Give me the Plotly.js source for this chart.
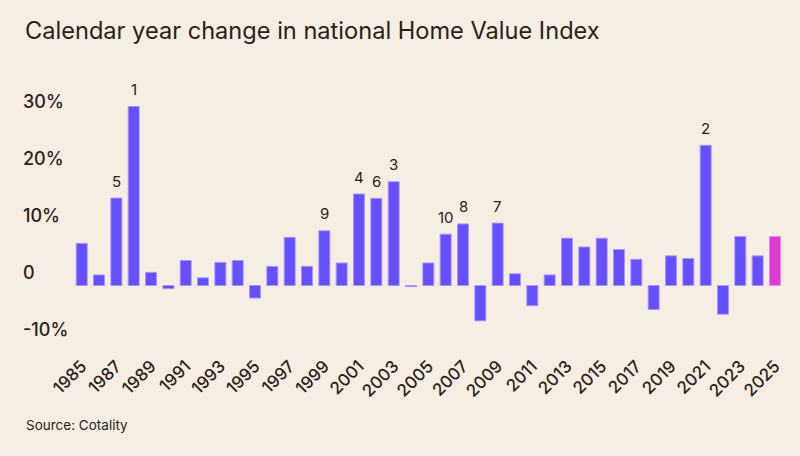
<!DOCTYPE html>
<html>
<head>
<meta charset="utf-8">
<script src="https://cdn.plot.ly/plotly-3.0.1.min.js"></script>
<style>html,body{margin:0;padding:0;background:#f7eee3;}#chart{width:800px;height:456px;}</style>
</head>
<body>
<div id="chart"></div>
<script>
// Calendar-year change in national Home Value Index (%)
const years = [1985,1986,1987,1988,1989,1990,1991,1992,1993,1994,1995,1996,1997,1998,1999,2000,
  2001,2002,2003,2004,2005,2006,2007,2008,2009,2010,2011,2012,2013,2014,2015,2016,2017,2018,
  2019,2020,2021,2022,2023,2024,2025];
const changes = [7.4,1.85,15.35,31.4,2.3,-0.55,4.4,1.35,4.05,4.4,-2.2,3.35,8.45,3.35,9.6,3.95,
  16.05,15.3,18.2,-0.2,3.95,9.0,10.8,-6.2,10.95,2.05,-3.55,1.85,8.3,6.75,8.3,6.3,4.6,-4.2,
  5.2,4.75,24.6,-5.05,8.6,5.2,8.6];
const yTickVals = [-10,0,10,20,30];
const yTickText = ['-10%','0','10%','20%','30%'];
const highlightYear = 2025;
const rankCount = 10;

const barColors = years.map(y => y === highlightYear ? '#d93bd3' : '#6650fe');
const lineColors = years.map(y => y === highlightYear ? '#ec8fe6' : '#a597ff');

// rank labels for the top years
const order = changes.map((v,i)=>i).sort((a,b)=>changes[b]-changes[a]).slice(0,rankCount);
const annotations = order.map((idx,r)=>({
  x: years[idx], y: changes[idx], xref:'x', yref:'y',
  text: String(r+1), showarrow:false, yanchor:'middle', yshift:17,
  font:{family:'Inter, sans-serif', size:15, color:'#2a2118'}
}));
annotations.push({
  xref:'paper', yref:'paper', x:0.0056, y:-0.259, xanchor:'left', yanchor:'middle',
  text:'Source: Cotality', showarrow:false,
  font:{family:'Inter, sans-serif', size:13.5, color:'#2a2118'}
});

const trace = {
  type:'bar', x: years, y: changes,
  marker:{color: barColors, line:{color: lineColors, width:1}},
  hoverinfo:'skip'
};

const layout = {
  width:800, height:456,
  paper_bgcolor:'#f7eee3', plot_bgcolor:'#f7eee3',
  margin:{l:20, r:16, t:70, b:104},
  bargap:0.365,
  showlegend:false,
  title:{text:'Calendar year change in national Home Value Index', x:25/800, xanchor:'left',
    xref:'container', yref:'container', y:1-31/456, yanchor:'middle',
    font:{family:'Inter, sans-serif', size:23.6, color:'#2a2118'}},
  xaxis:{type:'linear', range:[1981.44, 2025.52], tick0:1985, dtick:2, tickangle:-45,
    showgrid:false, zeroline:false, showline:false, ticks:'',
    tickfont:{family:'Inter, sans-serif', size:17, weight:500, color:'#2a2118'}},
  yaxis:{range:[-11.667, 37.807], tickvals:yTickVals, ticktext:yTickText,
    ticklabelposition:'inside', ticklabelshift:-13,
    showgrid:false, zeroline:false, showline:false, ticks:'',
    tickfont:{family:'Inter, sans-serif', size:18, weight:500, color:'#2a2118'}},
  annotations: annotations
};

Plotly.newPlot('chart', [trace], layout, {displayModeBar:false, staticPlot:true});
</script>
</body>
</html>
